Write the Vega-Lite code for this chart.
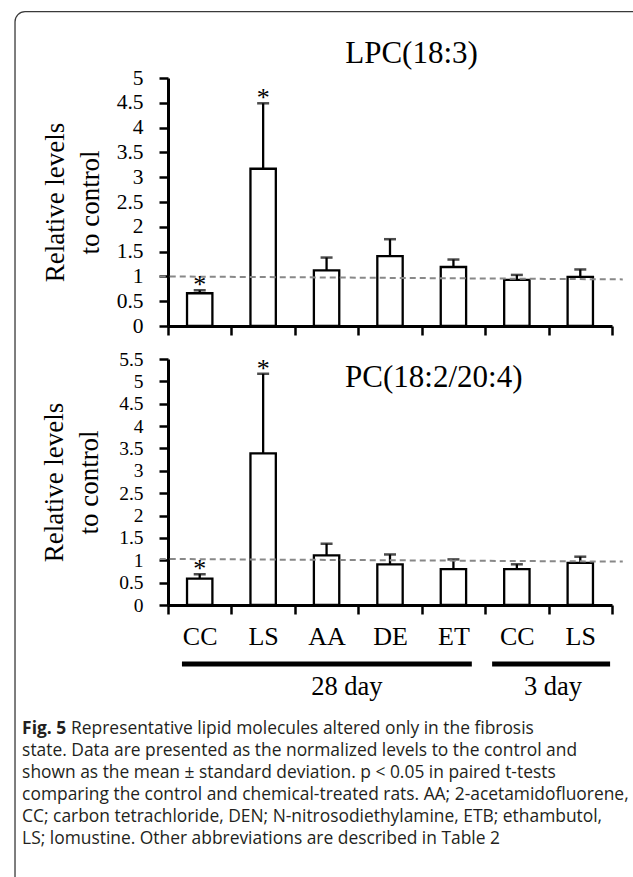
{
  "$schema": "https://vega.github.io/schema/vega-lite/v6.json",
  "background": "white",
  "padding": {"left": 14, "top": 11, "right": -12, "bottom": -12},
  "bounds": "flush",
  "spacing": 33,
  "datasets": {
    "lpc": [
      {"grp": "CC28", "mean": 0.66, "upper": 0.72, "sig": true},
      {"grp": "LS28", "mean": 3.17, "upper": 4.49, "sig": true},
      {"grp": "AA", "mean": 1.12, "upper": 1.38, "sig": false},
      {"grp": "DE", "mean": 1.41, "upper": 1.75, "sig": false},
      {"grp": "ET", "mean": 1.19, "upper": 1.34, "sig": false},
      {"grp": "CC3", "mean": 0.93, "upper": 1.03, "sig": false},
      {"grp": "LS3", "mean": 0.99, "upper": 1.14, "sig": false}
    ],
    "pc": [
      {"grp": "CC28", "mean": 0.59, "upper": 0.69, "sig": true},
      {"grp": "LS28", "mean": 3.39, "upper": 5.17, "sig": true},
      {"grp": "AA", "mean": 1.11, "upper": 1.37, "sig": false},
      {"grp": "DE", "mean": 0.91, "upper": 1.13, "sig": false},
      {"grp": "ET", "mean": 0.8, "upper": 1.02, "sig": false},
      {"grp": "CC3", "mean": 0.8, "upper": 0.91, "sig": false},
      {"grp": "LS3", "mean": 0.94, "upper": 1.08, "sig": false}
    ],
    "ref1": [{"from": "CC28", "to": "LS3", "y1": 1.0, "y2": 0.94}],
    "ref2": [{"from": "CC28", "to": "LS3", "y1": 1.03, "y2": 0.97}],
    "titles": [
      {"panel": "LPC", "label": "LPC(18:3)", "at": "DE"},
      {"panel": "PC", "label": "PC(18:2/20:4)", "at": "ET"}
    ],
    "brackets": [
      {"label": "28 day", "from": "CC28", "to": "ET"},
      {"label": "3 day", "from": "CC3", "to": "LS3"}
    ],
    "caption": [
      {"line": 0, "part": "label", "text": "Fig. 5"},
      {"line": 0, "part": "first", "text": "Representative lipid molecules altered only in the fibrosis"},
      {"line": 1, "part": "body", "text": "state. Data are presented as the normalized levels to the control and"},
      {"line": 2, "part": "body", "text": "shown as the mean ± standard deviation. p < 0.05 in paired t-tests"},
      {"line": 3, "part": "body", "text": "comparing the control and chemical-treated rats. AA; 2-acetamidofluorene,"},
      {"line": 4, "part": "body", "text": "CC; carbon tetrachloride, DEN; N-nitrosodiethylamine, ETB; ethambutol,"},
      {"line": 5, "part": "body", "text": "LS; lomustine. Other abbreviations are described in Table 2"}
    ]
  },
  "vconcat": [
    {
      "width": 444,
      "height": 248,
      "data": {"name": "lpc"},
      "layer": [
        {
          "mark": {"type": "rule", "strokeWidth": 2.3, "color": "black"},
          "encoding": {
            "x": {"field": "grp", "type": "nominal", "sort": null, "title": null, "scale": {"domain": ["CC28", "LS28", "AA", "DE", "ET", "CC3", "LS3"], "paddingInner": 0, "paddingOuter": 0}, "axis": {"labels": false, "labelOverlap": false, "tickBand": "extent"}},
            "y": {"field": "mean", "type": "quantitative", "scale": {"domain": [0, 5]}, "axis": {"values": [0, 0.5, 1, 1.5, 2, 2.5, 3, 3.5, 4, 4.5, 5], "tickCount": 30, "format": "~g", "labelOverlap": false, "labelFontSize": 21.5, "titlePadding": 12, "title": ["Relative levels", "to control"]}},
            "y2": {"field": "upper"}
          }
        },
        {
          "mark": {"type": "tick", "thickness": 2.5, "size": 12, "color": "black", "orient": "horizontal"},
          "encoding": {
            "x": {"field": "grp", "type": "nominal", "sort": null, "title": null, "scale": {"domain": ["CC28", "LS28", "AA", "DE", "ET", "CC3", "LS3"], "paddingInner": 0, "paddingOuter": 0}, "axis": {"labels": false, "labelOverlap": false, "tickBand": "extent"}},
            "y": {"field": "upper", "type": "quantitative", "scale": {"domain": [0, 5]}, "axis": {"values": [0, 0.5, 1, 1.5, 2, 2.5, 3, 3.5, 4, 4.5, 5], "tickCount": 30, "format": "~g", "labelOverlap": false, "labelFontSize": 21.5, "titlePadding": 12, "title": ["Relative levels", "to control"]}}
          }
        },
        {
          "mark": {"type": "bar", "fill": "white", "stroke": "black", "strokeWidth": 2.3, "width": {"band": 0.4}},
          "encoding": {
            "x": {"field": "grp", "type": "nominal", "sort": null, "title": null, "scale": {"domain": ["CC28", "LS28", "AA", "DE", "ET", "CC3", "LS3"], "paddingInner": 0, "paddingOuter": 0}, "axis": {"labels": false, "labelOverlap": false, "tickBand": "extent"}},
            "y": {"field": "mean", "type": "quantitative", "scale": {"domain": [0, 5]}, "axis": {"values": [0, 0.5, 1, 1.5, 2, 2.5, 3, 3.5, 4, 4.5, 5], "tickCount": 30, "format": "~g", "labelOverlap": false, "labelFontSize": 21.5, "titlePadding": 12, "title": ["Relative levels", "to control"]}}
          }
        },
        {
          "data": {"name": "ref1"},
          "mark": {"type": "rule", "strokeDash": [6, 4], "strokeWidth": 2, "color": "#888888"},
          "encoding": {
            "x": {"field": "from", "type": "nominal", "bandPosition": -0.13},
            "x2": {"field": "to", "bandPosition": 1.17},
            "y": {"field": "y1", "type": "quantitative"},
            "y2": {"field": "y2"}
          }
        },
        {
          "transform": [{"filter": "datum.sig"}],
          "mark": {"type": "text", "font": "Liberation Serif", "fontSize": 26, "baseline": "alphabetic", "dy": 3, "color": "black"},
          "encoding": {
            "x": {"field": "grp", "type": "nominal", "sort": null, "title": null, "scale": {"domain": ["CC28", "LS28", "AA", "DE", "ET", "CC3", "LS3"], "paddingInner": 0, "paddingOuter": 0}, "axis": {"labels": false, "labelOverlap": false, "tickBand": "extent"}},
            "y": {"field": "upper", "type": "quantitative", "scale": {"domain": [0, 5]}, "axis": {"values": [0, 0.5, 1, 1.5, 2, 2.5, 3, 3.5, 4, 4.5, 5], "tickCount": 30, "format": "~g", "labelOverlap": false, "labelFontSize": 21.5, "titlePadding": 12, "title": ["Relative levels", "to control"]}},
            "text": {"value": "*"}
          }
        },
        {
          "data": {"name": "titles"},
          "transform": [{"filter": "datum.panel == 'LPC'"}],
          "mark": {"type": "text", "font": "Liberation Serif", "fontSize": 31, "baseline": "alphabetic", "color": "black"},
          "encoding": {
            "x": {"field": "at", "type": "nominal", "bandPosition": 0.84},
            "y": {"datum": 5.294},
            "text": {"field": "label"}
          }
        },
        {
          "data": {"values": [{}]},
          "mark": {"type": "rect", "filled": false, "stroke": "#3a3a3a", "strokeWidth": 1.3, "cornerRadius": 10},
          "encoding": {
            "x": {"datum": "CC28", "bandPosition": -2.412},
            "x2": {"datum": "LS3", "bandPosition": 1.504},
            "y": {"datum": 6.337},
            "y2": {"datum": -11.32}
          }
        }
      ]
    },
    {
      "width": 444,
      "height": 246,
      "layer": [
        {
          "data": {"name": "pc"},
          "mark": {"type": "rule", "strokeWidth": 2.3, "color": "black"},
          "encoding": {
            "x": {"field": "grp", "type": "nominal", "sort": null, "title": null, "scale": {"domain": ["CC28", "LS28", "AA", "DE", "ET", "CC3", "LS3"], "paddingInner": 0, "paddingOuter": 0}, "axis": {"labelExpr": "slice(datum.label, 0, 2)", "labelOverlap": false, "tickBand": "extent"}},
            "y": {"field": "mean", "type": "quantitative", "scale": {"domain": [0, 5.5]}, "axis": {"values": [0, 0.5, 1, 1.5, 2, 2.5, 3, 3.5, 4, 4.5, 5, 5.5], "tickCount": 30, "format": "~g", "labelOverlap": false, "labelFontSize": 19.5, "titlePadding": 15, "title": ["Relative levels", "to control"]}},
            "y2": {"field": "upper"}
          }
        },
        {
          "data": {"name": "pc"},
          "mark": {"type": "tick", "thickness": 2.5, "size": 12, "color": "black", "orient": "horizontal"},
          "encoding": {
            "x": {"field": "grp", "type": "nominal", "sort": null, "title": null, "scale": {"domain": ["CC28", "LS28", "AA", "DE", "ET", "CC3", "LS3"], "paddingInner": 0, "paddingOuter": 0}, "axis": {"labelExpr": "slice(datum.label, 0, 2)", "labelOverlap": false, "tickBand": "extent"}},
            "y": {"field": "upper", "type": "quantitative", "scale": {"domain": [0, 5.5]}, "axis": {"values": [0, 0.5, 1, 1.5, 2, 2.5, 3, 3.5, 4, 4.5, 5, 5.5], "tickCount": 30, "format": "~g", "labelOverlap": false, "labelFontSize": 19.5, "titlePadding": 15, "title": ["Relative levels", "to control"]}}
          }
        },
        {
          "data": {"name": "pc"},
          "mark": {"type": "bar", "fill": "white", "stroke": "black", "strokeWidth": 2.3, "width": {"band": 0.4}},
          "encoding": {
            "x": {"field": "grp", "type": "nominal", "sort": null, "title": null, "scale": {"domain": ["CC28", "LS28", "AA", "DE", "ET", "CC3", "LS3"], "paddingInner": 0, "paddingOuter": 0}, "axis": {"labelExpr": "slice(datum.label, 0, 2)", "labelOverlap": false, "tickBand": "extent"}},
            "y": {"field": "mean", "type": "quantitative", "scale": {"domain": [0, 5.5]}, "axis": {"values": [0, 0.5, 1, 1.5, 2, 2.5, 3, 3.5, 4, 4.5, 5, 5.5], "tickCount": 30, "format": "~g", "labelOverlap": false, "labelFontSize": 19.5, "titlePadding": 15, "title": ["Relative levels", "to control"]}}
          }
        },
        {
          "data": {"name": "ref2"},
          "mark": {"type": "rule", "strokeDash": [6, 4], "strokeWidth": 2, "color": "#888888"},
          "encoding": {
            "x": {"field": "from", "type": "nominal", "bandPosition": -0.13},
            "x2": {"field": "to", "bandPosition": 1.17},
            "y": {"field": "y1", "type": "quantitative"},
            "y2": {"field": "y2"}
          }
        },
        {
          "data": {"name": "pc"},
          "transform": [{"filter": "datum.sig"}],
          "mark": {"type": "text", "font": "Liberation Serif", "fontSize": 26, "baseline": "alphabetic", "dy": 3, "color": "black"},
          "encoding": {
            "x": {"field": "grp", "type": "nominal", "sort": null, "title": null, "scale": {"domain": ["CC28", "LS28", "AA", "DE", "ET", "CC3", "LS3"], "paddingInner": 0, "paddingOuter": 0}, "axis": {"labelExpr": "slice(datum.label, 0, 2)", "labelOverlap": false, "tickBand": "extent"}},
            "y": {"field": "upper", "type": "quantitative", "scale": {"domain": [0, 5.5]}, "axis": {"values": [0, 0.5, 1, 1.5, 2, 2.5, 3, 3.5, 4, 4.5, 5, 5.5], "tickCount": 30, "format": "~g", "labelOverlap": false, "labelFontSize": 19.5, "titlePadding": 15, "title": ["Relative levels", "to control"]}},
            "text": {"value": "*"}
          }
        },
        {
          "data": {"name": "titles"},
          "transform": [{"filter": "datum.panel == 'PC'"}],
          "mark": {"type": "text", "font": "Liberation Serif", "fontSize": 31, "baseline": "alphabetic", "color": "black"},
          "encoding": {
            "x": {"field": "at", "type": "nominal", "bandPosition": 0.19},
            "y": {"datum": 4.865},
            "text": {"field": "label"}
          }
        },
        {
          "data": {"name": "brackets"},
          "transform": [{"filter": "datum.label == '28 day'"}],
          "layer": [
            {
              "mark": {"type": "rule", "strokeWidth": 5, "color": "black", "strokeCap": "butt"},
              "encoding": {
                "x": {"field": "from", "type": "nominal", "bandPosition": 0.22},
                "x2": {"field": "to", "bandPosition": 0.79},
                "y": {"datum": -1.32}
              }
            },
            {
              "mark": {"type": "text", "font": "Liberation Serif", "fontSize": 26.5, "baseline": "alphabetic", "color": "black"},
              "encoding": {
                "x": {"field": "from", "type": "nominal", "bandPosition": 2.82},
                "y": {"datum": -2.02},
                "text": {"field": "label"}
              }
            }
          ]
        },
        {
          "data": {"name": "brackets"},
          "transform": [{"filter": "datum.label == '3 day'"}],
          "layer": [
            {
              "mark": {"type": "rule", "strokeWidth": 5, "color": "black", "strokeCap": "butt"},
              "encoding": {
                "x": {"field": "from", "type": "nominal", "bandPosition": 0.11},
                "x2": {"field": "to", "bandPosition": 0.97},
                "y": {"datum": -1.32}
              }
            },
            {
              "mark": {"type": "text", "font": "Liberation Serif", "fontSize": 26.5, "baseline": "alphabetic", "color": "black"},
              "encoding": {
                "x": {"field": "from", "type": "nominal", "bandPosition": 1.07},
                "y": {"datum": -2.02},
                "text": {"field": "label"}
              }
            }
          ]
        }
      ]
    },
    {
      "width": 444,
      "height": 206,
      "data": {"name": "caption"},
      "encoding": {
        "y": {"field": "line", "type": "quantitative", "scale": {"domain": [0, 5], "range": [96, 206], "nice": false, "zero": false}, "axis": null},
        "x": {"datum": -2.3, "type": "quantitative", "scale": {"domain": [0, 7], "nice": false, "zero": false}, "axis": null}
      },
      "layer": [
        {
          "transform": [{"filter": "datum.part == 'label'"}],
          "mark": {"type": "text", "align": "left", "baseline": "alphabetic", "font": "Open Sans", "fontSize": 17.4, "fontWeight": "bold", "color": "#231f20"},
          "encoding": {"text": {"field": "text"}}
        },
        {
          "transform": [{"filter": "datum.part == 'first'"}],
          "mark": {"type": "text", "align": "left", "baseline": "alphabetic", "font": "Open Sans", "fontSize": 17.4, "dx": 49, "color": "#231f20"},
          "encoding": {"text": {"field": "text"}}
        },
        {
          "transform": [{"filter": "datum.part == 'body'"}],
          "mark": {"type": "text", "align": "left", "baseline": "alphabetic", "font": "Open Sans", "fontSize": 17.4, "color": "#231f20"},
          "encoding": {"text": {"field": "text"}}
        }
      ]
    }
  ],
  "config": {
    "view": {"stroke": null},
    "axis": {
      "labelFont": "Liberation Serif", "labelFontSize": 26, "labelColor": "black",
      "tickColor": "black", "tickWidth": 2.5, "tickSize": 9,
      "domainColor": "black", "domainWidth": 3,
      "titleFont": "Liberation Serif", "titleFontSize": 27, "titleFontWeight": "normal", "titleColor": "black",
      "grid": false, "labelOverlap": false
    },
    "axisX": {"tickBand": "extent", "labelAngle": 0, "labelPadding": 9},
    "axisY": {"labelPadding": 16, "titleLineHeight": 35}
  }
}
